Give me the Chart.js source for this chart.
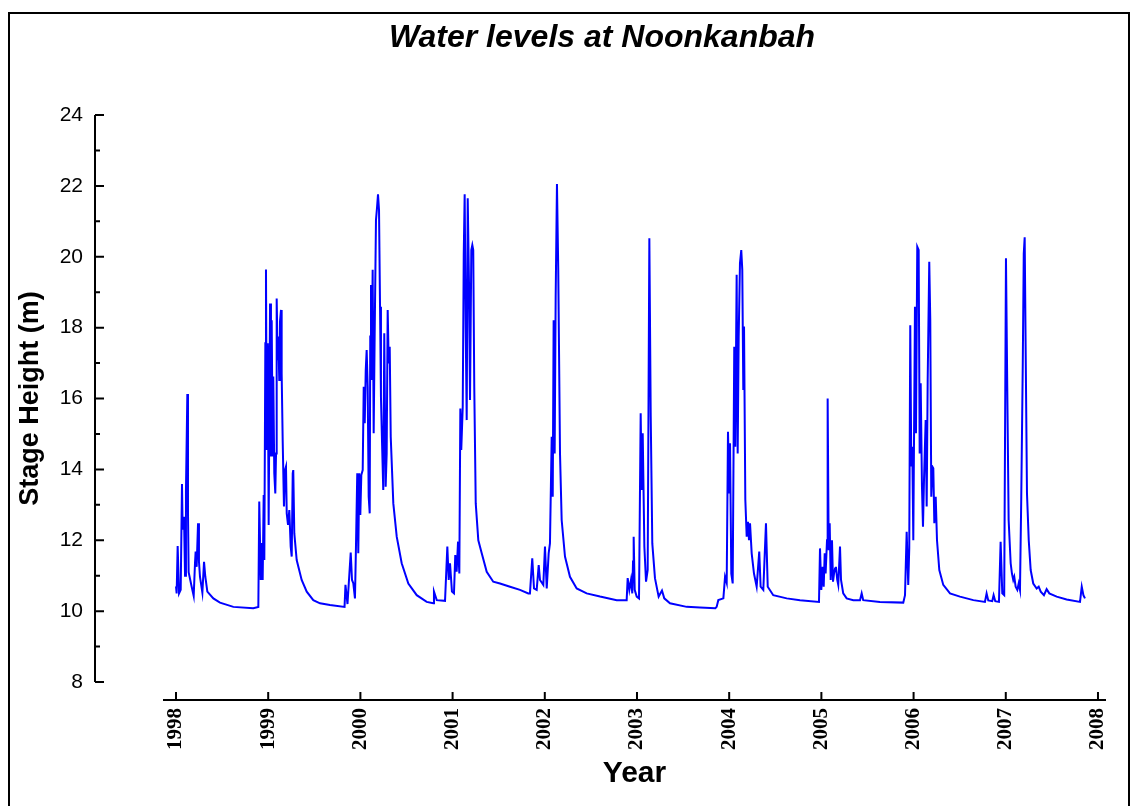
<!DOCTYPE html>
<html>
<head>
<meta charset="utf-8">
<title>Water levels at Noonkanbah</title>
<script src="https://cdn.jsdelivr.net/npm/chart.js@4.4.1/dist/chart.umd.min.js"></script>
<style>
html, body { margin: 0; padding: 0; background: #fff; }
canvas { display: block; }
</style>
</head>
<body>
<canvas id="levelChart" width="1132" height="806"></canvas>
<script>
// stage height (m) against decimal year, one array per wet season
const wet1998 = [
    [1998.000, 10.70], [1998.007, 10.50], [1998.018, 11.84], [1998.033, 10.50], [1998.051, 10.60],
    [1998.065, 13.59], [1998.072, 12.30], [1998.087, 12.66], [1998.098, 11.00], [1998.108, 13.40],
    [1998.123, 16.13], [1998.130, 12.80], [1998.137, 11.10], [1998.170, 10.69], [1998.192, 10.43],
    [1998.206, 11.35], [1998.213, 11.68], [1998.224, 11.25], [1998.239, 12.48], [1998.249, 11.40],
    [1998.260, 10.97], [1998.286, 10.52], [1998.304, 11.39], [1998.318, 10.97], [1998.340, 10.55],
    [1998.405, 10.36], [1998.477, 10.24], [1998.622, 10.12], [1998.838, 10.08], [1998.893, 10.12]
];
const wet1999 = [
    [1998.903, 13.09], [1998.919, 10.88], [1998.933, 11.92], [1998.940, 10.88], [1998.951, 13.28],
    [1998.958, 11.44], [1998.969, 17.56], [1998.976, 19.64], [1998.984, 14.55], [1998.995, 17.56],
    [1999.005, 12.43], [1999.020, 18.68], [1999.030, 14.36], [1999.038, 18.21], [1999.049, 14.36],
    [1999.055, 16.62], [1999.066, 13.89], [1999.077, 13.32], [1999.085, 14.45], [1999.092, 18.82],
    [1999.103, 17.08], [1999.110, 17.75], [1999.120, 16.52], [1999.128, 18.17], [1999.139, 18.50],
    [1999.146, 16.71], [1999.157, 14.83], [1999.171, 12.95], [1999.182, 13.98], [1999.193, 14.08],
    [1999.201, 12.76], [1999.215, 12.43], [1999.229, 12.85], [1999.244, 11.82], [1999.255, 11.54],
    [1999.266, 13.89], [1999.272, 13.98], [1999.283, 12.20], [1999.309, 11.44], [1999.363, 10.88],
    [1999.418, 10.55], [1999.489, 10.31], [1999.562, 10.22], [1999.670, 10.17], [1999.828, 10.12]
];
const wet2000 = [
    [1999.838, 10.74], [1999.860, 10.20], [1999.895, 11.65], [1999.909, 10.88], [1999.923, 10.79],
    [1999.941, 10.36], [1999.952, 11.82], [1999.966, 13.89], [1999.977, 11.63], [1999.988, 13.89],
    [1999.999, 12.71], [2000.010, 13.84], [2000.025, 13.98], [2000.036, 16.33], [2000.047, 15.30],
    [2000.058, 16.80], [2000.068, 17.37], [2000.079, 16.33], [2000.090, 13.23], [2000.101, 12.76],
    [2000.107, 17.75], [2000.115, 19.20], [2000.122, 16.52], [2000.133, 19.63], [2000.144, 15.02],
    [2000.155, 17.84], [2000.169, 21.04], [2000.180, 21.37], [2000.191, 21.76], [2000.202, 21.32],
    [2000.213, 18.59], [2000.223, 16.04], [2000.234, 14.83], [2000.248, 13.42], [2000.259, 17.84],
    [2000.274, 13.51], [2000.285, 14.45], [2000.296, 18.50], [2000.307, 16.99], [2000.318, 17.46],
    [2000.329, 14.92], [2000.357, 13.04], [2000.394, 12.10], [2000.448, 11.35], [2000.520, 10.78],
    [2000.611, 10.45], [2000.719, 10.26], [2000.791, 10.22]
];
const wet2001 = [
    [2000.798, 10.55], [2000.828, 10.31], [2000.918, 10.29], [2000.943, 11.82], [2000.958, 10.88],
    [2000.972, 11.35], [2000.993, 10.55], [2001.015, 10.50], [2001.029, 11.58], [2001.044, 11.11],
    [2001.059, 11.96], [2001.073, 11.06], [2001.084, 15.72], [2001.094, 14.55], [2001.110, 15.77],
    [2001.121, 20.09], [2001.131, 21.76], [2001.142, 18.03], [2001.153, 15.39], [2001.164, 21.65],
    [2001.178, 19.25], [2001.189, 15.96], [2001.203, 20.19], [2001.214, 20.33], [2001.224, 20.19],
    [2001.235, 16.33], [2001.251, 13.04], [2001.279, 12.00], [2001.316, 11.63], [2001.370, 11.11],
    [2001.441, 10.83], [2001.514, 10.78], [2001.623, 10.69], [2001.731, 10.60], [2001.821, 10.50]
];
const wet2002 = [
    [2001.839, 10.50], [2001.864, 11.49], [2001.883, 10.64], [2001.912, 10.60], [2001.934, 11.30],
    [2001.948, 10.88], [2001.984, 10.74], [2002.002, 11.82], [2002.021, 10.64], [2002.042, 11.63],
    [2002.056, 11.91], [2002.075, 14.92], [2002.086, 13.23], [2002.096, 18.21], [2002.107, 14.45],
    [2002.118, 18.87], [2002.132, 22.05], [2002.146, 19.63], [2002.165, 14.45], [2002.183, 12.57],
    [2002.219, 11.54], [2002.273, 10.97], [2002.346, 10.64], [2002.454, 10.50], [2002.599, 10.41],
    [2002.780, 10.31], [2002.888, 10.31]
];
const wet2003 = [
    [2002.899, 10.93], [2002.917, 10.60], [2002.935, 10.88], [2002.949, 10.50], [2002.957, 11.40],
    [2002.964, 12.10], [2002.975, 10.60], [2002.997, 10.41], [2003.022, 10.36], [2003.040, 15.58],
    [2003.051, 13.42], [2003.062, 15.02], [2003.080, 11.82], [2003.098, 10.83], [2003.116, 11.16],
    [2003.134, 20.52], [2003.149, 15.49], [2003.166, 11.91], [2003.195, 10.93], [2003.220, 10.60],
    [2003.235, 10.41], [2003.271, 10.58], [2003.296, 10.36], [2003.358, 10.22], [2003.539, 10.12],
    [2003.683, 10.10], [2003.850, 10.08]
];
const wet2004 = [
    [2003.864, 10.12], [2003.882, 10.31], [2003.937, 10.36], [2003.955, 10.97], [2003.973, 10.80],
    [2003.987, 15.06], [2004.001, 13.32], [2004.009, 14.74], [2004.023, 11.06], [2004.038, 10.78],
    [2004.055, 17.46], [2004.066, 14.64], [2004.081, 19.49], [2004.092, 14.45], [2004.103, 17.75],
    [2004.117, 19.82], [2004.131, 20.19], [2004.142, 19.63], [2004.153, 16.24], [2004.161, 18.03],
    [2004.175, 13.14], [2004.190, 12.10], [2004.204, 12.52], [2004.215, 12.00], [2004.226, 12.48],
    [2004.244, 11.63], [2004.269, 11.06], [2004.298, 10.69], [2004.326, 11.68], [2004.341, 10.69],
    [2004.370, 10.60], [2004.399, 12.48], [2004.418, 10.69], [2004.478, 10.45], [2004.624, 10.36],
    [2004.768, 10.31]
];
const wet2005 = [
    [2004.974, 10.26], [2004.985, 11.77], [2004.999, 10.60], [2005.014, 11.25], [2005.025, 10.69],
    [2005.036, 11.63], [2005.046, 11.06], [2005.061, 12.00], [2005.068, 16.00], [2005.079, 11.72],
    [2005.090, 12.48], [2005.101, 10.88], [2005.115, 12.00], [2005.126, 10.83], [2005.137, 11.06],
    [2005.148, 11.20], [2005.158, 11.25], [2005.172, 10.88], [2005.183, 10.74], [2005.202, 11.82],
    [2005.213, 10.88], [2005.237, 10.50], [2005.274, 10.36], [2005.346, 10.31], [2005.419, 10.31],
    [2005.437, 10.50], [2005.454, 10.31], [2005.635, 10.26], [2005.888, 10.24]
];
const wet2006 = [
    [2005.907, 10.45], [2005.925, 12.24], [2005.942, 10.74], [2005.953, 11.77], [2005.964, 18.07],
    [2005.975, 14.08], [2005.986, 14.64], [2005.997, 12.00], [2006.015, 18.59], [2006.026, 15.02],
    [2006.040, 20.28], [2006.055, 20.19], [2006.066, 14.45], [2006.077, 16.43], [2006.091, 13.51],
    [2006.102, 12.38], [2006.113, 13.70], [2006.131, 15.39], [2006.142, 12.95], [2006.153, 16.52],
    [2006.170, 19.86], [2006.181, 18.21], [2006.192, 13.23], [2006.203, 14.08], [2006.214, 14.03],
    [2006.225, 12.48], [2006.240, 13.23], [2006.254, 12.00], [2006.279, 11.16], [2006.322, 10.74],
    [2006.395, 10.50], [2006.503, 10.41], [2006.648, 10.31], [2006.774, 10.26], [2006.792, 10.50],
    [2006.810, 10.30], [2006.853, 10.28], [2006.868, 10.45], [2006.886, 10.28], [2006.926, 10.26]
];
const wet2007 = [
    [2006.944, 11.96], [2006.962, 10.50], [2006.983, 10.45], [2007.002, 19.96], [2007.016, 16.33],
    [2007.031, 12.57], [2007.053, 11.35], [2007.067, 11.06], [2007.081, 10.88], [2007.092, 10.97],
    [2007.107, 10.69], [2007.125, 10.60], [2007.140, 10.78], [2007.154, 10.60], [2007.168, 13.23],
    [2007.184, 16.90], [2007.195, 20.09], [2007.205, 20.55], [2007.216, 17.27], [2007.230, 13.32],
    [2007.249, 12.00], [2007.270, 11.16], [2007.298, 10.78], [2007.335, 10.64], [2007.357, 10.69],
    [2007.379, 10.55], [2007.414, 10.45], [2007.443, 10.62], [2007.472, 10.50], [2007.552, 10.41],
    [2007.660, 10.33], [2007.805, 10.26], [2007.824, 10.69], [2007.842, 10.45], [2007.859, 10.36]
];

const yearTicks = [1998, 1999, 2000, 2001, 2002, 2003, 2004, 2005, 2006, 2007, 2008];
const stageTicks = [8, 10, 12, 14, 16, 18, 20, 22, 24];
const minorStageTicks = [9, 11, 13, 15, 17, 19, 21, 23];

const chartTitle = 'Water levels at Noonkanbah';
const xTitle = 'Year';
const yTitle = 'Stage Height (m)';

const levelPoints = [].concat(wet1998, wet1999, wet2000, wet2001, wet2002, wet2003,
    wet2004, wet2005, wet2006, wet2007).map(p => ({ x: p[0], y: p[1] }));

Chart.defaults.font.family = "'Liberation Sans', Arial, sans-serif";
Chart.defaults.color = '#000';

// white page, outer frame and the chart heading
const framePlugin = {
    id: 'framePlugin',
    beforeDraw: chart => {
        const ctx = chart.ctx;
        ctx.save();
        ctx.fillStyle = '#fff';
        ctx.fillRect(0, 0, chart.width, chart.height);
        ctx.strokeStyle = '#000';
        ctx.lineWidth = 2;
        ctx.strokeRect(9, 13, 1120, 820);
        ctx.fillStyle = '#000';
        ctx.font = "italic bold 32px 'Liberation Sans', Arial, sans-serif";
        ctx.textAlign = 'center';
        ctx.textBaseline = 'alphabetic';
        ctx.fillText(chartTitle, 602, 47);
        ctx.restore();
    }
};

// detached axis lines with inward ticks
const axisPlugin = {
    id: 'axisPlugin',
    afterDraw: chart => {
        const ctx = chart.ctx;
        const xs = chart.scales.x;
        const ys = chart.scales.y;
        const area = chart.chartArea;
        const axisX = area.left - 68;
        const axisY = area.bottom + 18;
        ctx.save();
        ctx.strokeStyle = '#000';
        ctx.lineWidth = 2;
        ctx.beginPath();
        ctx.moveTo(axisX, ys.getPixelForValue(stageTicks[stageTicks.length - 1]));
        ctx.lineTo(axisX, ys.getPixelForValue(stageTicks[0]));
        stageTicks.forEach(v => {
            const py = ys.getPixelForValue(v);
            ctx.moveTo(axisX, py);
            ctx.lineTo(axisX + 9, py);
        });
        minorStageTicks.forEach(v => {
            const py = ys.getPixelForValue(v);
            ctx.moveTo(axisX, py);
            ctx.lineTo(axisX + 5, py);
        });
        ctx.moveTo(area.left, axisY);
        ctx.lineTo(area.right, axisY);
        yearTicks.forEach(v => {
            const px = xs.getPixelForValue(v);
            ctx.moveTo(px, axisY);
            ctx.lineTo(px, axisY - 8);
        });
        ctx.stroke();
        ctx.restore();
    }
};

new Chart(document.getElementById('levelChart'), {
    type: 'line',
    plugins: [framePlugin, axisPlugin],
    data: {
        datasets: [{
            label: 'Stage height',
            data: levelPoints,
            borderColor: '#0000ff',
            borderWidth: 2,
            pointRadius: 0,
            tension: 0,
            fill: false
        }]
    },
    options: {
        responsive: false,
        animation: false,
        layout: { padding: { top: 115, right: 26, bottom: 0, left: 0 } },
        plugins: {
            legend: { display: false },
            tooltip: { enabled: false },
            title: { display: false }
        },
        scales: {
            x: {
                type: 'linear',
                min: 1997.859,
                max: 2008.087,
                afterBuildTicks: s => { s.ticks = yearTicks.map(v => ({ value: v })); },
                afterFit: s => {
                    s.height = 124;
                    s.paddingLeft = 0;
                    s.paddingRight = 0;
                },
                grid: { display: false, drawTicks: false },
                border: { display: false },
                ticks: {
                    autoSkip: false,
                    minRotation: 90,
                    maxRotation: 90,
                    padding: 26,
                    color: '#000',
                    font: { family: "'Liberation Serif', 'Times New Roman', serif", weight: 'bold', size: 21 },
                    callback: v => String(v)
                },
                title: {
                    display: true,
                    text: xTitle,
                    color: '#000',
                    font: { weight: 'bold', size: 30 },
                    padding: { top: 0, bottom: 14 }
                }
            },
            y: {
                min: 8,
                max: 24,
                afterBuildTicks: s => { s.ticks = stageTicks.map(v => ({ value: v })); },
                afterFit: s => {
                    s.width = 163;
                    s.paddingTop = 0;
                    s.paddingBottom = 0;
                },
                grid: { display: false, drawTicks: false },
                border: { display: false },
                ticks: {
                    padding: 80,
                    color: '#000',
                    font: { size: 21 }
                },
                title: {
                    display: true,
                    text: yTitle,
                    color: '#000',
                    font: { weight: 'bold', size: 27 },
                    padding: { top: 14, bottom: 0 }
                }
            }
        }
    }
});
</script>
</body>
</html>
